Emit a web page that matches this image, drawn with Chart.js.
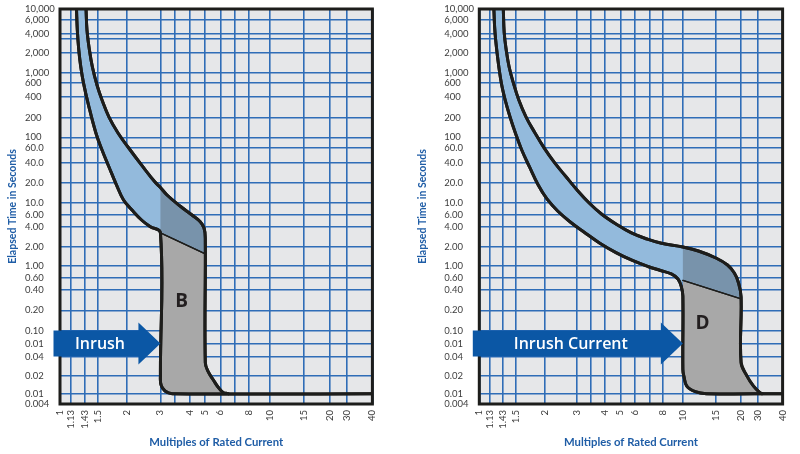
<!DOCTYPE html>
<html>
<head>
<meta charset="utf-8">
<script src="https://cdn.jsdelivr.net/npm/chart.js@4.4.1/dist/chart.umd.min.js"></script>
<style>
  html, body { margin: 0; padding: 0; background: #ffffff; }
  #wrap { position: relative; width: 800px; height: 454px; }
  .box { position: absolute; top: 0; width: 400px; height: 454px; }
</style>
</head>
<body>
<div id="wrap">
  <div class="box" style="left:0px"><canvas id="chartB"></canvas></div>
  <div class="box" style="left:400px"><canvas id="chartD"></canvas></div>
</div>
<script>
// ---------- Axis ticks (values, printed labels, and their place on the non-uniform printed grid) ----------
const xTickValues = [1, 1.13, 1.43, 1.5, 2, 3, 3.5, 4, 5, 6, 7, 8, 10, 15, 20, 30, 40];
const xTickLabels = ['1', '1.13', '1.43', '1.5', '2', '3', '', '4', '5', '6', '', '8', '10', '15', '20', '30', '40'];
const xTickSlots  = [0, 0.0525, 0.117, 0.179, 0.320, 0.479, 0.546, 0.618, 0.693, 0.765, 0.836, 0.900, 1.0, 1.164, 1.286, 1.368, 1.490];

const yTickValues = [10000, 6000, 4000, 3000, 2000, 1000, 600, 400, 200, 100, 60, 40, 20, 10, 6, 4, 2, 1, 0.6, 0.4, 0.2, 0.1, 0.06, 0.04, 0.02, 0.01, 0.004];
const yTickLabels = ['10,000', '6,000', '4,000', '', '2,000', '1,000', '600', '400', '200', '100', '60.0', '40.0', '20.0', '10.0', '6.00', '4.00', '2.00', '1.00', '0.60', '0.40', '0.20', '0.10', '0.01', '0.04', '0.02', '0.01', '0.004'];
const yTickSlots  = [4, 3.829, 3.612, 3.543, 3.317, 3.0, 2.845, 2.627, 2.307, 2.0, 1.835, 1.609, 1.292, 0.981, 0.790, 0.609, 0.298, 0, -0.193, -0.374, -0.696, -1.022, -1.213, -1.419, -1.720, -1.994, -2.155];

// ---------- Type B curve (multiples of rated current, seconds) ----------
const bLowerX = [1.243, 1.261, 1.294, 1.340, 1.405, 1.451, 1.491, 1.567, 1.677, 1.805, 1.932, 2.123, 2.384, 2.642, 3.0, 3.0, 3.02, 3.155, 3.41, 40];
const bLowerY = [10000, 4477, 2165, 1235, 601, 306, 116.6, 56.6, 34.3, 18.5, 11.0, 7.39, 5.04, 4.01, 3.21, 0.021, 0.0141, 0.0111, 0.01, 0.01];
const bUpperX = [1.438, 1.443, 1.456, 1.472, 1.497, 1.567, 1.677, 1.831, 2.022, 2.427, 2.808, 3.0, 3.225, 3.676, 4.14, 4.64, 4.91, 5.0, 5.0, 5.17, 5.49, 5.83, 6.17, 6.5];
const bUpperY = [10000, 4477, 2165, 1235, 568, 363, 204, 116.6, 62.8, 34.3, 20.5, 17.0, 13.1, 8.74, 6.0, 4.78, 3.81, 2.70, 0.0326, 0.0236, 0.0175, 0.013, 0.0105, 0.01];
const bDiagX = [3, 5];
const bDiagY = [3.21, 1.54];

// ---------- Type D curve ----------
const dLowerX = [1.211, 1.237, 1.303, 1.385, 1.441, 1.468, 1.498, 1.593, 1.722, 1.879, 2.064, 2.36, 2.764, 3.25, 3.80, 4.69, 5.81, 6.89, 7.84, 8.81, 9.48, 9.84, 10, 10, 10.13, 10.49, 11.63, 13.29, 40];
const dLowerY = [10000, 4107, 1567, 601, 363, 204, 116.6, 56.6, 34.3, 18.5, 11.4, 7.09, 4.70, 3.32, 2.27, 1.61, 1.21, 0.969, 0.821, 0.711, 0.581, 0.44, 0.324, 0.0254, 0.0198, 0.0135, 0.0108, 0.01, 0.01];
const dUpperX = [1.431, 1.436, 1.447, 1.463, 1.487, 1.547, 1.664, 1.82, 1.993, 2.275, 2.602, 3.009, 3.45, 3.87, 4.69, 5.74, 6.82, 7.92, 10, 12.08, 14.95, 17.1, 18.5, 19.35, 20, 20, 23.1, 27.07, 30.8, 31.5];
const dUpperY = [10000, 4107, 2165, 1235, 601, 363, 204, 116.6, 60.1, 39.3, 25.2, 15.6, 9.9, 6.26, 4.38, 3.21, 2.60, 2.24, 1.97, 1.705, 1.323, 1.026, 0.74, 0.524, 0.316, 0.0326, 0.02, 0.0135, 0.0104, 0.01];
const dDiagX = [10, 20];
const dDiagY = [0.552, 0.293];

// ---------- Annotations ----------
const zoneNames = ['B', 'D'];
const zoneLabelX = [3.73, 12.7];
const zoneLabelY = [0.28, 0.135];
const arrowTexts = ['Inrush', 'Inrush Current'];
const arrowTipX = [3, 10];
const arrowTipY = [0.06, 0.06];

// ---------- Mapping real values onto the printed (non-uniform) grid ----------
function makeAxisMap(values, slots) {
  const pairs = values.map((v, i) => [Math.log10(v), slots[i]]).sort((a, b) => a[0] - b[0]);
  return function (v) {
    const l = Math.log10(v);
    let i = 0;
    while (i < pairs.length - 2 && l > pairs[i + 1][0]) i++;
    const [l0, s0] = pairs[i], [l1, s1] = pairs[i + 1];
    return s0 + (l - l0) * (s1 - s0) / (l1 - l0);
  };
}
const tx = makeAxisMap(xTickValues, xTickSlots);
const ty = makeAxisMap(yTickValues, yTickSlots);

function pts(xs, ys) { return xs.map((x, i) => ({ x: x, y: ys[i] })); }
function mapPts(p) { return p.map(q => ({ x: tx(q.x), y: ty(q.y) })); }

function buildRegions(upper, lower, diag) {
  const dS = diag[0], dE = diag[1];
  const kU = upper.findIndex(p => p.x >= dE.x);
  const kL = lower.findIndex(p => p.x >= dS.x);
  const cU = upper.findIndex(p => p.x >= dS.x);
  const lastX = upper[upper.length - 1].x;
  const band = [...upper.slice(0, kU + 1), dE, dE, dS, dS, ...lower.slice(0, kL).reverse()];
  const dark = [...upper.slice(cU, kU + 1), dE, dE, dS];
  const grey = [dS, dE, dE, ...upper.slice(kU + 1), ...lower.slice(kL + 1).filter(p => p.x <= lastX).reverse()];
  return { band, dark, grey };
}

const INK = '#1d1d1b';
const GRID = '#2f6db7';
const TITLE_BLUE = '#1f5da6';
const TENSION = 0.4;

function polyDataset(points, color, order) {
  return {
    data: mapPts(points), showLine: true, fill: 'shape',
    backgroundColor: color, borderColor: 'rgba(0,0,0,0)', borderWidth: 0,
    pointRadius: 0, pointHoverRadius: 0, tension: TENSION, order: order
  };
}
function lineDataset(points, width, order, tension) {
  return {
    data: mapPts(points), showLine: true, fill: false,
    borderColor: INK, borderWidth: width, borderCapStyle: 'round', borderJoinStyle: 'round',
    pointRadius: 0, pointHoverRadius: 0, tension: tension, order: order, onTop: true
  };
}

const plotBg = {
  id: 'plotBg',
  beforeDraw(c) {
    const { ctx, chartArea: a } = c;
    ctx.save();
    ctx.fillStyle = '#e6e7e9';
    ctx.fillRect(a.left, a.top, a.right - a.left, a.bottom - a.top);
    ctx.restore();
  }
};
const linesOnTop = {
  id: 'linesOnTop',
  afterDraw(c) {
    const { ctx, chartArea: a } = c;
    ctx.save();
    ctx.beginPath();
    ctx.rect(a.left, a.top, a.right - a.left, a.bottom - a.top);
    ctx.clip();
    c.data.datasets.forEach((ds, i) => { if (ds.onTop) c.getDatasetMeta(i).controller.draw(); });
    ctx.restore();
  }
};
const frame = {
  id: 'frame',
  afterDraw(c) {
    const { ctx, chartArea: a } = c;
    ctx.save();
    ctx.lineWidth = 3;
    ctx.strokeStyle = INK;
    ctx.strokeRect(a.left, a.top, a.right - a.left, a.bottom - a.top);
    ctx.restore();
  }
};
const annot = {
  id: 'annot',
  afterDraw(c, args, o) {
    const xs = c.scales.x, ys = c.scales.y, a = c.chartArea, ctx = c.ctx;
    const tipX = xs.getPixelForValue(tx(o.tipX));
    const tipY = ys.getPixelForValue(ty(o.tipY));
    const left = a.left - 6.5, headLen = 22, shaftH = 13, headH = 21;
    ctx.save();
    ctx.fillStyle = '#0b57a5';
    ctx.beginPath();
    ctx.moveTo(left, tipY - shaftH);
    ctx.lineTo(tipX - headLen, tipY - shaftH);
    ctx.lineTo(tipX - headLen, tipY - headH);
    ctx.lineTo(tipX, tipY);
    ctx.lineTo(tipX - headLen, tipY + headH);
    ctx.lineTo(tipX - headLen, tipY + shaftH);
    ctx.lineTo(left, tipY + shaftH);
    ctx.closePath();
    ctx.fill();
    ctx.fillStyle = '#ffffff';
    ctx.font = '600 16px "Open Sans"';
    ctx.textAlign = 'center';
    ctx.textBaseline = 'alphabetic';
    ctx.fillText(o.text, (left + tipX - headLen) / 2 + 4, tipY + 5.7);
    ctx.fillStyle = '#231f20';
    ctx.font = 'bold 19px "Open Sans"';
    ctx.fillText(o.zone, xs.getPixelForValue(tx(o.zoneX)), ys.getPixelForValue(ty(o.zoneY)) + 7);
    ctx.restore();
  }
};

function labelFor(slots, labels, value) {
  const i = slots.findIndex(s => Math.abs(s - value) < 1e-6);
  return i >= 0 ? labels[i] : '';
}

function buildChart(id, k, upper, lower, diag, layout) {
  const r = buildRegions(upper, lower, diag);
  return new Chart(document.getElementById(id), {
    type: 'scatter',
    data: {
      datasets: [
        polyDataset(r.band, '#93badc', 6),
        polyDataset(r.dark, '#7893ab', 5),
        polyDataset(r.grey, '#a8a8a8', 4),
        lineDataset(diag, 1.3, 3, 0),
        lineDataset(lower, 3, 2, TENSION),
        lineDataset(upper, 3, 1, TENSION)
      ]
    },
    options: {
      responsive: true,
      maintainAspectRatio: false,
      animation: false,
      devicePixelRatio: 1,
      events: [],
      layout: { padding: { left: 0, right: layout.padRight, top: 9, bottom: 0 } },
      plugins: {
        legend: { display: false },
        tooltip: { enabled: false },
        annot: {
          tipX: arrowTipX[k], tipY: arrowTipY[k], text: arrowTexts[k],
          zone: zoneNames[k], zoneX: zoneLabelX[k], zoneY: zoneLabelY[k]
        }
      },
      scales: {
        x: {
          type: 'linear',
          position: 'bottom',
          min: tx(1), max: tx(40),
          z: 1,
          afterBuildTicks: s => { s.ticks = xTickValues.map(v => ({ value: tx(v) })); },
          afterFit: s => { s.height = 50; },
          grid: { color: GRID, lineWidth: 1.6, drawTicks: false },
          border: { display: false },
          ticks: {
            autoSkip: false, minRotation: 90, maxRotation: 90, padding: 6,
            color: '#3c3c3c', font: { family: 'Lato', size: 9.5 },
            callback: v => labelFor(xTickValues.map(tx), xTickLabels, v)
          },
          title: {
            display: true, text: 'Multiples of Rated Current', color: TITLE_BLUE,
            font: { family: 'Lato', size: 11.3, weight: 'bold' }, padding: { top: 0, bottom: 5 }
          }
        },
        y: {
          type: 'linear',
          position: 'left',
          weight: 0,
          min: ty(0.004), max: ty(10000),
          z: 1,
          afterBuildTicks: s => { s.ticks = yTickValues.map(v => ({ value: ty(v) })); },
          afterFit: s => { s.width = layout.labelWidth; },
          grid: { color: GRID, lineWidth: 1.6, drawTicks: false },
          border: { display: false },
          ticks: {
            autoSkip: false, padding: 0, crossAlign: 'far',
            color: '#3c3c3c', font: { family: 'Lato', size: 9.5 },
            callback: v => labelFor(yTickValues.map(ty), yTickLabels, v)
          }
        },
        yTitle: {
          type: 'linear',
          position: 'left',
          weight: 1,
          afterFit: s => { s.width = layout.titleWidth; },
          grid: { display: false, drawTicks: false },
          border: { display: false },
          ticks: { display: false },
          title: {
            display: true, text: 'Elapsed Time in Seconds', color: TITLE_BLUE,
            font: { family: 'Lato', size: 10.5, weight: 'bold' }, padding: { top: layout.titlePad, bottom: 0 }
          }
        }
      }
    },
    plugins: [plotBg, linesOnTop, frame, annot]
  });
}

buildChart('chartB', 0, pts(bUpperX, bUpperY), pts(bLowerX, bLowerY), pts(bDiagX, bDiagY),
  { titleWidth: 25, labelWidth: 35, titlePad: 6.4, padRight: 27.6 });
buildChart('chartD', 1, pts(dUpperX, dUpperY), pts(dLowerX, dLowerY), pts(dDiagX, dDiagY),
  { titleWidth: 44.3, labelWidth: 35, titlePad: 16.4, padRight: 8.3 });
</script>
</body>
</html>
